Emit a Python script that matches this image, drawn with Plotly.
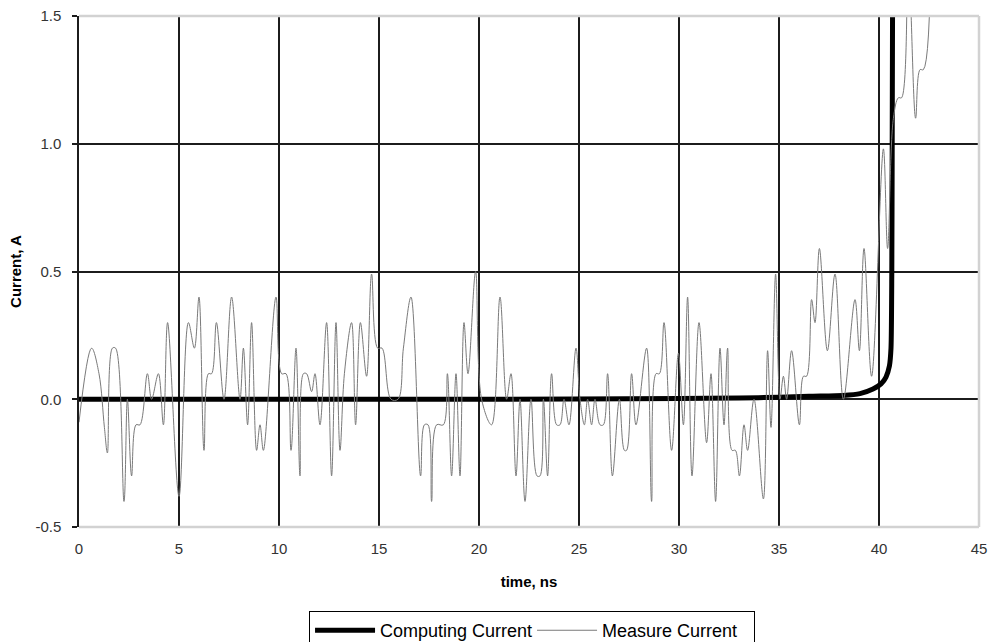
import plotly.graph_objects as go

# ---- data ----
time_measured = [
    0.0, 0.63, 1.0, 1.27, 1.42, 1.67, 1.83, 2.25, 2.42, 2.63, 2.85, 3.05, 3.42, 3.63, 3.97,
    4.22, 4.43, 5.0, 5.47, 5.77, 6.0, 6.25, 6.47, 6.63, 6.87, 7.25, 7.63, 8.05, 8.22, 8.43,
    8.63, 8.88, 9.05, 9.22, 9.85, 10.13, 10.35, 10.6, 10.85, 11.05, 11.22, 11.38, 11.63, 11.8,
    12.05, 12.38, 12.63, 12.85, 13.05, 13.27, 13.63, 13.83, 14.07, 14.38, 14.63, 14.93, 15.15,
    15.6, 15.95, 16.22, 16.6, 17.08, 17.27, 17.45, 17.63, 17.88, 18.22, 18.42, 18.63, 18.85,
    19.05, 19.25, 19.45, 19.83, 20.13, 20.63, 21.05, 21.38, 21.6, 21.85, 22.05, 22.3, 22.6,
    22.9, 23.05, 23.22, 23.43, 23.63, 23.88, 24.05, 24.25, 24.5, 24.85, 25.05, 25.27, 25.43,
    25.63, 25.8, 26.05, 26.22, 26.43, 26.67, 27.02, 27.27, 27.38, 27.63, 27.85, 28.38, 28.63,
    28.85, 29.02, 29.25, 29.63, 29.97, 30.22, 30.43, 30.65, 31.0, 31.38, 31.6, 31.83, 32.05,
    32.25, 32.43, 32.65, 32.82, 33.02, 33.25, 33.43, 33.75, 34.22, 34.43, 34.6, 34.83, 35.05,
    35.22, 35.38, 35.63, 36.02, 36.22, 36.38, 36.63, 36.8, 37.02, 37.42, 37.8, 38.22, 38.8,
    39.02, 39.25, 39.63, 40.22, 40.43, 40.72, 40.97, 41.13, 41.47, 41.83, 42.05, 42.22, 42.6,
]
current_measured = [
    -0.09, 0.2, 0.1, -0.11, -0.21, 0.2, 0.2, -0.4, 0.0, -0.3, -0.1, -0.1, 0.1, 0.0, 0.1,
    -0.1, 0.3, -0.38, 0.3, 0.2, 0.4, -0.2, 0.1, 0.1, 0.3, 0.0, 0.4, 0.0, 0.2, -0.1,
    0.3, -0.2, -0.1, -0.2, 0.4, 0.1, 0.1, -0.2, 0.2, -0.3, 0.1, 0.1, 0.03, 0.1,
    -0.1, 0.3, -0.3, 0.3, -0.2, 0.1, 0.3, -0.1, 0.3, 0.09, 0.49, 0.2, 0.2,
    0.0, 0.0, 0.2, 0.4, -0.3, -0.1, -0.1, -0.4, -0.1, -0.1, 0.1, -0.3, 0.1,
    -0.3, 0.3, 0.1, 0.5, 0.0, -0.1, 0.4, 0.0, 0.1, -0.3, 0.0, -0.4, 0.0,
    -0.3, -0.3, 0.0, -0.3, 0.1, -0.1, -0.1, 0.0, -0.1, 0.2, 0.0, -0.1, 0.0,
    -0.1, 0.0, -0.1, -0.1, 0.1, -0.3, 0.0, -0.2, -0.2, 0.1, -0.1, 0.2, -0.4,
    0.1, 0.1, 0.3, -0.2, 0.18, -0.1, 0.4, -0.3, 0.3, -0.17, 0.1, -0.4, 0.2,
    -0.1, 0.2, -0.2, -0.2, -0.3, -0.1, -0.2, 0.0, -0.39, 0.19, -0.11, 0.49, 0.0,
    0.09, 0.0, 0.19, -0.1, 0.09, 0.09, 0.39, 0.3, 0.59, 0.19, 0.49, 0.0, 0.39,
    0.19, 0.59, 0.09, 0.98, 0.59, 1.1, 1.18, 1.18, 1.7, 1.1, 1.29, 1.29, 1.8,
]

time_computed = [0, 10, 20, 30, 33, 35, 36.5, 38.2, 39.05, 39.7, 40.1, 40.35, 40.52,
                 40.6, 40.64, 40.66, 40.68]
current_computed = [0, 0, 0, 0.003, 0.005, 0.008, 0.012, 0.015, 0.022, 0.04, 0.06, 0.087,
                    0.13, 0.2, 0.5, 1.0, 1.6]

x_ticks = [0, 5, 10, 15, 20, 25, 30, 35, 40, 45]
y_ticks = [-0.5, 0.0, 0.5, 1.0, 1.5]
y_tick_text = ["-0.5", "0.0", "0.5", "1.0", "1.5"]

GRID = "#1c1c1c"
EDGE = "#d2d2d2"
FONT = "Arial, 'Liberation Sans', sans-serif"

fig = go.Figure()
fig.add_trace(go.Scatter(
    x=time_computed, y=current_computed, mode="lines", name="Computing Current",
    line=dict(color="black", width=5, shape="spline", smoothing=0.6),
    hoverinfo="skip",
))
fig.add_trace(go.Scatter(
    x=time_measured, y=current_measured, mode="lines", name="Measure Current",
    line=dict(color="#7a7a7a", width=1, shape="spline", smoothing=1.0),
    hoverinfo="skip",
))

fig.update_layout(
    width=993, height=642,
    margin=dict(l=79, r=14, t=16, b=115, autoexpand=False),
    plot_bgcolor="white", paper_bgcolor="white",
    font=dict(family=FONT, color="#333333"),
    showlegend=True,
    legend=dict(
        orientation="h", x=0.2556, xanchor="left", y=-0.1645, yanchor="top",
        bordercolor="black", borderwidth=1, bgcolor="white",
        font=dict(size=18, color="black", family=FONT),
        itemwidth=60, entrywidth=147,
    ),
    xaxis=dict(
        range=[0, 45], tickvals=x_ticks, ticktext=[str(v) for v in x_ticks],
        showgrid=True, gridcolor=GRID, gridwidth=1.5,
        zeroline=False, showline=False, ticks="",
        tickfont=dict(size=15, color="#333333"), ticklabelstandoff=11,
        title=dict(text="<b>time, ns</b>", font=dict(size=15, color="black"), standoff=20),
    ),
    yaxis=dict(
        range=[-0.5, 1.5], tickvals=y_ticks, ticktext=y_tick_text,
        showgrid=True, gridcolor=GRID, gridwidth=1.5,
        zeroline=False, showline=True, linecolor=GRID, linewidth=1.5,
        ticks="outside", ticklen=5, tickwidth=1.5, tickcolor=GRID,
        tickfont=dict(size=15, color="#333333"), ticklabelstandoff=8,
        title=dict(text="<b>Current, A</b>", font=dict(size=15, color="black"), standoff=10),
    ),
    shapes=[
        dict(type="line", xref="paper", yref="paper", x0=1, x1=1, y0=0, y1=1,
             line=dict(color=EDGE, width=2.5), layer="above"),
        dict(type="line", xref="paper", yref="paper", x0=0, x1=1, y0=1, y1=1,
             line=dict(color=EDGE, width=2.5), layer="above"),
        dict(type="line", xref="paper", yref="paper", x0=0, x1=1, y0=0, y1=0,
             line=dict(color=EDGE, width=2.5), layer="above"),
    ],
)

fig.write_html("out.html")
